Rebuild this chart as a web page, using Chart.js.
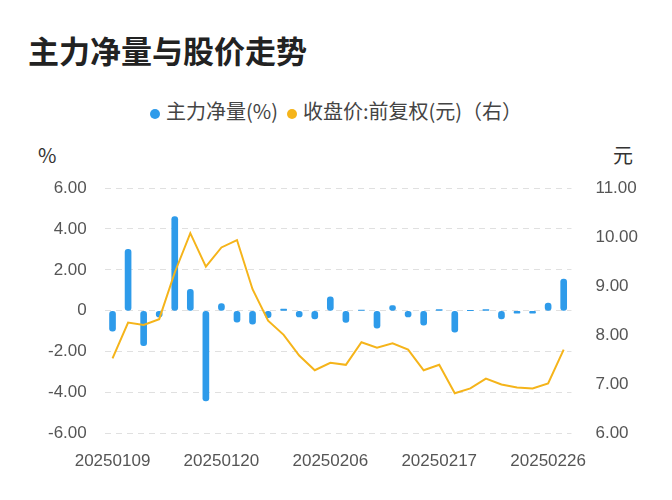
<!DOCTYPE html>
<html><head><meta charset="utf-8">
<script src="https://cdn.jsdelivr.net/npm/chart.js@4"></script>
<style>
body{margin:0;width:672px;height:500px;background:#fff;font-family:"Noto Sans CJK SC","Noto Sans",sans-serif;position:relative;overflow:hidden}
#title{position:absolute;left:28px;top:27px;font-size:31px;font-weight:bold;color:#222}
#legend{position:absolute;left:0;width:672px;top:96px;text-align:center;font-size:20px;color:#444}
.dot{display:inline-block;width:10px;height:10px;border-radius:5px;margin-right:6px;vertical-align:middle}
.unit{position:absolute;top:140px;font-size:20px;color:#333}
#wrap{position:absolute;left:0;top:0;width:672px;height:500px}
</style></head><body>
<div id="title">主力净量与股价走势</div>
<div id="legend"><span class="dot" style="background:#2E9BEA"></span>主力净量(%)&nbsp;&nbsp;<span class="dot" style="background:#F5B41A"></span>收盘价:前复权(元)（右）</div>
<div class="unit" style="left:38px">%</div>
<div class="unit" style="left:613px">元</div>
<div id="wrap"><canvas id="c" width="672" height="500"></canvas></div>
<script>
const dates = ["20250109","20250110","20250113","20250114","20250115","20250116","20250117","20250120","20250121","20250122","20250123","20250124","20250127","20250205","20250206","20250207","20250210","20250211","20250212","20250213","20250214","20250217","20250218","20250219","20250220","20250221","20250224","20250225","20250226","20250227"];
const netFlow = [-1.0,3.0,-1.7,-0.3,4.6,1.05,-4.4,0.35,-0.55,-0.65,-0.33,0.08,-0.3,-0.4,0.68,-0.57,0.03,-0.85,0.25,-0.3,-0.7,0.06,-1.05,0.01,0.06,-0.4,-0.12,-0.12,0.38,1.55];
const closePrice = [7.53,8.26,8.21,8.33,9.28,10.08,9.40,9.79,9.94,8.94,8.30,8.01,7.59,7.29,7.44,7.40,7.86,7.75,7.84,7.71,7.29,7.40,6.82,6.92,7.12,7.00,6.94,6.92,7.02,7.71];
const leftTicks = {min:-6,max:6,step:2};
const rightTicks = {min:6,max:11,step:1};

const tickFont = {family:"Liberation Sans, Arial, sans-serif", size:17};
new Chart(document.getElementById("c"), {
  data:{
    labels:dates,
    datasets:[
      {type:"line",data:closePrice,yAxisID:"y1",borderColor:"#F5B41A",borderWidth:2,pointRadius:0,tension:0,order:0},
      {type:"bar",data:netFlow,yAxisID:"y",backgroundColor:"#2E9BEA",barThickness:6,borderRadius:3,borderSkipped:false,order:1}
    ]
  },
  options:{
    responsive:false,animation:false,
    layout:{padding:{top:188,left:30,right:18,bottom:18}},
    plugins:{legend:{display:false},tooltip:{enabled:false}},
    scales:{
      x:{offset:true,grid:{display:false},border:{display:false},
         ticks:{font:tickFont,color:"#555",autoSkip:false,maxRotation:0,padding:10,
           callback:(v,i)=> i%7===0 ? dates[i] : ""}},
      y:{position:"left",min:leftTicks.min,max:leftTicks.max,
         grid:{color:"#e0e0e0",drawTicks:false},border:{display:true,color:"rgba(0,0,0,0)",dash:[6,5]},
         ticks:{stepSize:leftTicks.step,font:tickFont,color:"#555",padding:18,callback:v=> v===0 ? "0" : v.toFixed(2)}},
      y1:{position:"right",min:rightTicks.min,max:rightTicks.max,
         grid:{display:false},border:{display:false},
         ticks:{stepSize:rightTicks.step,font:tickFont,color:"#555",padding:16,callback:v=>v.toFixed(2)}}
    }
  }
});
</script></body></html>
